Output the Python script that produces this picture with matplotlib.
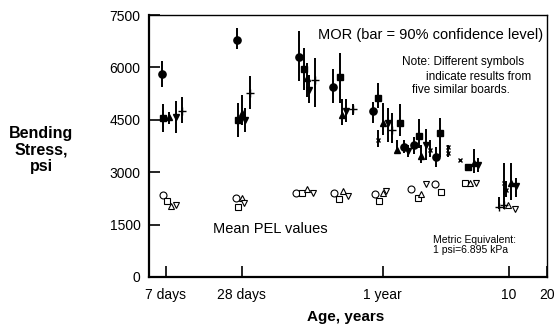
import matplotlib
matplotlib.use("Agg")
import matplotlib.pyplot as plt
import numpy as np

plt.rcParams['font.family'] = ['Liberation Sans', 'DejaVu Sans']

# ---- MOR data (age in years, mean psi, lower, upper of 90% bar) ----
mor_circle_age = [0.01795, 0.0707, 0.2194, 0.4013, 0.8337, 1.4685, 1.7621, 2.6344]
mor_circle_val = [5811, 6784, 6298, 5439, 4752, 3721, 3779, 3435]
mor_circle_lo = [5439, 6527, 5611, 4981, 4408, 3550, 3521, 3149]
mor_circle_hi = [6183, 7128, 7042, 5954, 5009, 3922, 4008, 3721]

mor_square_age = [0.01828, 0.0720, 0.2404, 0.4560, 0.9126, 1.3643, 1.9301, 2.8333, 4.7290]
mor_square_val = [4552, 4494, 5954, 5725, 5124, 4408, 4036, 4122, 3149]
mor_square_lo = [4151, 4008, 5353, 4981, 4838, 4036, 3693, 3435, 3149]
mor_square_hi = [4952, 4981, 6555, 6412, 5553, 4952, 4523, 4551, 3149]

mor_up_age = [0.0204, 0.0775, 0.2540, 0.4729, 1.0, 1.2912, 2.0032, 5.2723, 10.37]
mor_up_val = [4580, 4695, 5697, 4637, 4408, 3636, 3464, 3263, 2691]
mor_up_lo = [4380, 4351, 5153, 4351, 4065, 3550, 3263, 2977, 2204]
mor_up_hi = [4723, 5210, 6126, 5095, 4981, 3922, 3779, 3664, 3263]

mor_down_age = [0.02317, 0.0818, 0.2635, 0.5085, 1.0956, 1.5796, 2.1950, 5.6784, 11.37]
mor_down_val = [4580, 4494, 5353, 4752, 4408, 3607, 3779, 3206, 2605]
mor_down_lo = [4122, 4151, 4981, 4437, 3865, 3435, 3349, 3006, 2290]
mor_down_hi = [5038, 4838, 5782, 5095, 4838, 3779, 4237, 3406, 2834]

mor_plus_age = [0.02588, 0.0896, 0.2938, 0.5781, 1.1788, 8.33, 9.12]
mor_plus_val = [4752, 5267, 5639, 4809, 4208, 2004, 2061]
mor_plus_lo = [4408, 4809, 4866, 4637, 3836, 1950, 1950]
mor_plus_hi = [5153, 5754, 6269, 4952, 4695, 2300, 2550]

mor_x_age = [0.9126, 2.3606, 3.2783, 3.2783, 4.0843, 9.12, 9.47]
mor_x_val = [3922, 3636, 3722, 3550, 3349, 2691, 2490]
mor_x_lo = [3721, 3435, 3600, 3435, 3349, 2347, 2300]
mor_x_hi = [4208, 3922, 3779, 3650, 3349, 3263, 2750]

# ---- Mean PEL values ----
pel_circle_age = [0.01828, 0.0694, 0.2075, 0.4159, 0.8642, 1.6681, 2.5865]
pel_circle_val = [2347, 2261, 2405, 2405, 2376, 2519, 2662]
pel_square_age = [0.01968, 0.0720, 0.2318, 0.4477, 0.9296, 1.8953, 2.8864, 4.4773]
pel_square_val = [2176, 2004, 2405, 2233, 2176, 2262, 2433, 2691]
pel_up_age = [0.02115, 0.0775, 0.2540, 0.4815, 1.0, 2.0032, 4.9014, 9.82]
pel_up_val = [2033, 2262, 2519, 2462, 2405, 2376, 2691, 2061]
pel_down_age = [0.02317, 0.0803, 0.2833, 0.5274, 1.0563, 2.1950, 5.4715, 11.16]
pel_down_val = [2061, 2119, 2405, 2319, 2462, 2663, 2691, 1947]

xtick_pos = [7 / 365, 28 / 365, 1, 10, 20]
xtick_lab = ['7 days', '28 days', '1 year', '10', '20']
ytick_pos = [0, 1500, 3000, 4500, 6000, 7500]

fig = plt.figure(figsize=(5.55, 3.27), dpi=100)
ax = fig.add_axes([0.2685, 0.153, 0.717, 0.801])
ax.set_xscale('log')

def mor(age, val, lo, hi, marker, ms):
    val = np.array(val); lo = np.array(lo); hi = np.array(hi)
    ax.errorbar(age, val, yerr=[val - lo, hi - val], fmt=marker, color='black',
                ms=ms, mew=1.0, elinewidth=1.4, capsize=0, zorder=3)

mor(mor_circle_age, mor_circle_val, mor_circle_lo, mor_circle_hi, 'o', 5.2)
mor(mor_square_age, mor_square_val, mor_square_lo, mor_square_hi, 's', 4.6)
mor(mor_up_age, mor_up_val, mor_up_lo, mor_up_hi, '^', 4.6)
mor(mor_down_age, mor_down_val, mor_down_lo, mor_down_hi, 'v', 4.6)
mor(mor_plus_age, mor_plus_val, mor_plus_lo, mor_plus_hi, '+', 5.5)
mor(mor_x_age, mor_x_val, mor_x_lo, mor_x_hi, 'x', 3.5)

for a, v, m in [(pel_circle_age, pel_circle_val, 'o'), (pel_square_age, pel_square_val, 's'),
                (pel_up_age, pel_up_val, '^'), (pel_down_age, pel_down_val, 'v')]:
    ax.plot(a, v, linestyle='none', marker=m, ms=5, mfc='white', mec='black', mew=0.8, zorder=3)

ax.set_xlim(0.01415, 20)
ax.set_ylim(0, 7500)
ax.set_xticks(xtick_pos)
ax.set_xticklabels(xtick_lab)
ax.xaxis.set_minor_locator(matplotlib.ticker.NullLocator())
ax.set_yticks(ytick_pos)
ax.tick_params(direction='in', length=8, width=1.2, labelsize=10, pad=6)
ax.tick_params(axis='x', pad=8)
ax.spines['left'].set_linewidth(1.6)
ax.spines['bottom'].set_linewidth(1.6)
ax.spines['top'].set_linewidth(1.0)
ax.spines['right'].set_linewidth(1.0)

fig.text(0.074, 0.541, 'Bending\nStress,\npsi', ha='center', va='center',
         fontsize=11.5, fontweight='bold', linespacing=1.15)
fig.text(0.622, 0.030, 'Age, years', ha='center', va='center', fontsize=11, fontweight='bold')

fig.text(0.573, 0.893, 'MOR (bar = 90% confidence level)', ha='left', va='center', fontsize=10.5)
fig.text(0.724, 0.810, 'Note: Different symbols', ha='left', va='center', fontsize=8.5)
fig.text(0.768, 0.765, 'indicate results from', ha='left', va='center', fontsize=8.5)
fig.text(0.742, 0.725, 'five similar boards.', ha='left', va='center', fontsize=8.5)
fig.text(0.384, 0.300, 'Mean PEL values', ha='left', va='center', fontsize=10.5)
fig.text(0.780, 0.266, 'Metric Equivalent:', ha='left', va='center', fontsize=7.5)
fig.text(0.780, 0.235, '1 psi=6.895 kPa', ha='left', va='center', fontsize=7.5)

fig.savefig('out.png', dpi=100)
